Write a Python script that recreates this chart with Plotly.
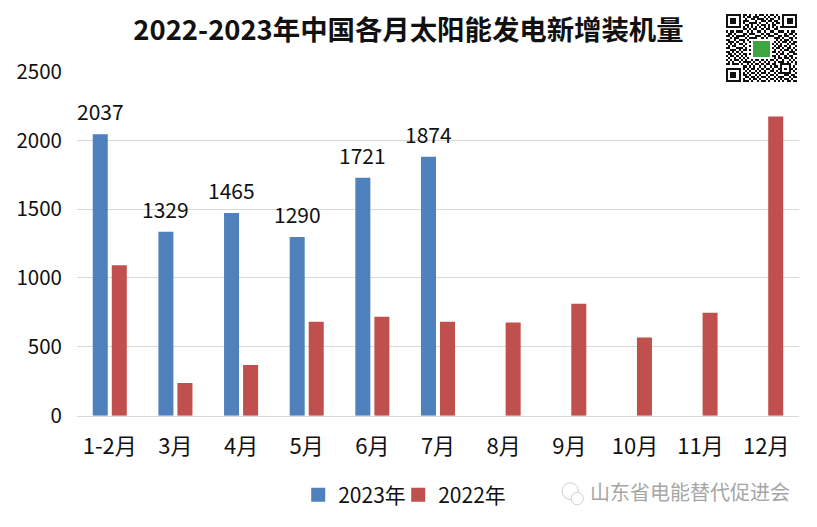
import plotly.graph_objects as go

months = ['1-2月', '3月', '4月', '5月', '6月', '7月', '8月', '9月', '10月', '11月', '12月']
values_2023 = [2037, 1329, 1465, 1290, 1721, 1874, None, None, None, None, None]
values_2022 = [1085, 230, 360, 675, 710, 675, 668, 805, 560, 740, 2165]

# rough reading of the code in the top right corner, 2 is the green logo
qr_rows = [
    '1111111011010010110101101001111111',
    '1000001010110111001010010101000001',
    '1011101001001101110101100101011101',
    '1011101011100010011011011001011101',
    '1011101010011110100100101101011101',
    '1000001001101001011010110001000001',
    '1111111010101010101010101011111111',
    '0000000011010110010110011000000000',
    '1011011100101001101001100111010110',
    '0110100011011100010110011000101101',
    '1101011110100011101011100110110010',
    '0010110001011110010100011101001101',
    '1100101110100000000000001010110100',
    '0111010010010222222220010101101011',
    '1010101101000222222220101010010110',
    '0101100010010222222220010110101001',
    '1100011101000222222220101101011010',
    '0011101011010222222220010010110101',
    '1101010100000222222220110101001110',
    '0110101011010222222220001011010011',
    '1011010101000222222220110100101100',
    '0100101010100000000000010110110101',
    '1010110101001011010101101001001010',
    '0101001011110100101010010111010101',
    '1101110100101011010110110011111001',
    '0000000011010100101001011010001010',
    '1111111010101101010110100110101101',
    '1000001001010010101001101010001010',
    '1011101010101101011010010111111001',
    '1011101011010010100101101000110110',
    '1011101001101101011010010111001011',
    '1000001010010110100101101010110100',
    '1111111011101001011010010101011011',
    '0000000000000000000000000000000000',
]
qr_z = [[int(c) for c in row] for row in qr_rows]

fig = go.Figure()

fig.add_trace(go.Bar(
    name='2023年',
    x=months,
    y=values_2023,
    marker=dict(color='#4f81bd', line=dict(color='#4f81bd', width=2)),
    showlegend=True,
    legend='legend',
))
fig.add_trace(go.Bar(
    name='2022年',
    x=months,
    y=values_2022,
    marker=dict(color='#c0504d', line=dict(color='#c0504d', width=2)),
    showlegend=True,
    legend='legend2',
))

fig.add_trace(go.Heatmap(
    z=qr_z,
    xaxis='x2',
    yaxis='y2',
    zmin=0,
    zmax=2,
    colorscale=[[0, '#ffffff'], [0.5, '#111111'], [0.5, '#111111'], [1, '#3fa53f']],
    showscale=False,
    showlegend=False,
    hoverinfo='skip',
))

# value labels float well above the bars, further than textposition outside allows
value_labels = [
    dict(x=m, y=v, text=str(v), xref='x', yref='y', xshift=-9.5, yshift=24,
         yanchor='middle', showarrow=False, font=dict(size=21, color='#111111'))
    for m, v in zip(months, values_2023) if v is not None
]

watermark = dict(
    text='山东省电能替代促进会',
    xref='paper',
    yref='paper',
    x=0.9695,
    xanchor='right',
    y=0.067,
    yanchor='middle',
    showarrow=False,
    font=dict(size=20, color='#a6a6a6'),
)

fig.update_layout(
    width=817,
    height=527,
    autosize=False,
    barmode='group',
    bargap=0.42,
    bargroupgap=0.316,
    paper_bgcolor='white',
    plot_bgcolor='white',
    font=dict(family='Noto Sans CJK SC', size=20, color='#111111'),
    title=dict(
        text='<b>2022-2023年中国各月太阳能发电新增装机量</b>',
        x=0.5,
        xanchor='center',
        xref='paper',
        y=0.943,
        yanchor='middle',
        font=dict(size=27.4, color='#111111'),
        automargin=False,
    ),
    margin=dict(l=0, r=0, t=0, b=0),
    xaxis=dict(
        domain=[0.0942, 0.978],
        anchor='y',
        range=[-0.5, 10.5],
        automargin=False,
        showline=True,
        linecolor='#d9d9d9',
        ticks='',
        ticklabelstandoff=11,
        tickfont=dict(size=22),
    ),
    yaxis=dict(
        domain=[0.2115, 0.8643],
        anchor='x',
        automargin=False,
        range=[0, 2500],
        dtick=500,
        gridcolor='#d9d9d9',
        gridwidth=1,
        zeroline=False,
        ticks='',
        ticklabelstandoff=14,
        tickfont=dict(size=20.5),
    ),
    xaxis2=dict(domain=[0.8886, 0.9755], anchor='y2', visible=False, automargin=False),
    yaxis2=dict(domain=[0.8406, 0.9734], anchor='x2', visible=False, automargin=False,
                autorange='reversed'),
    legend=dict(
        orientation='h',
        x=0.365,
        xanchor='left',
        y=0.0607,
        yanchor='middle',
        bgcolor='rgba(0,0,0,0)',
        font=dict(size=21),
        itemwidth=30,
    ),
    legend2=dict(
        orientation='h',
        x=0.4874,
        xanchor='left',
        y=0.0607,
        yanchor='middle',
        bgcolor='rgba(0,0,0,0)',
        font=dict(size=21),
        itemwidth=30,
    ),
    annotations=value_labels + [watermark],
    # faint chat bubbles of the watermark
    shapes=[
        dict(type='circle', xref='paper', yref='paper', x0=0.688, x1=0.708, y0=0.052, y1=0.084,
             line=dict(color='#d0d0d0', width=1)),
        dict(type='circle', xref='paper', yref='paper', x0=0.699, x1=0.714, y0=0.042, y1=0.066,
             line=dict(color='#d0d0d0', width=1), fillcolor='white'),
    ],
)

fig.write_html("out.html", config=dict(displayModeBar=False),
               post_script="document.body.style.margin='0';")
